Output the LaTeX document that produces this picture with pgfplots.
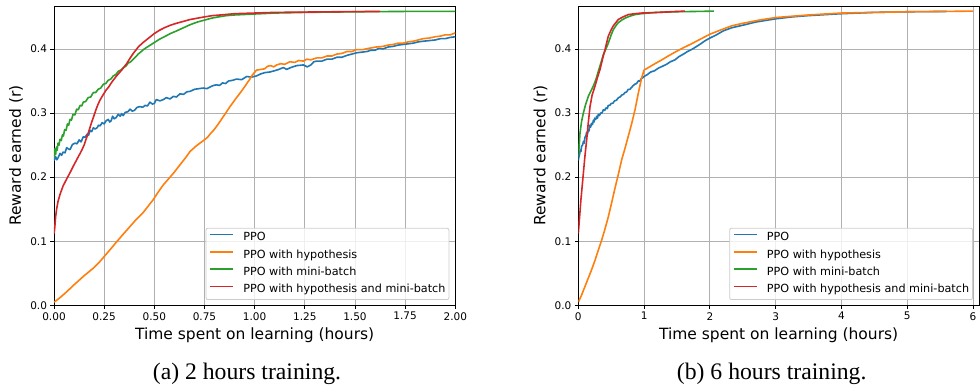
\documentclass[border=0pt]{standalone}
\usepackage{fontspec}
\setmainfont{DejaVu Sans}
\newfontfamily\capfont{Liberation Serif}
\usepackage{pgfplots}
\pgfplotsset{compat=1.18}
\definecolor{tabblue}{HTML}{1F77B4}
\definecolor{taborange}{HTML}{FF7F0E}
\definecolor{tabgreen}{HTML}{2CA02C}
\definecolor{tabred}{HTML}{D62728}
\definecolor{gridgray}{HTML}{B0B0B0}
\definecolor{legedge}{HTML}{CCCCCC}

\pgfplotsset{
  myax/.style={
    scale only axis, height=299.3pt,
    ymin=0, ymax=0.467,
    ytick={0,0.1,0.2,0.3,0.4},
    grid=major, grid style={gridgray, line width=0.8pt},
    axis line style={line width=0.9pt},
    tick align=outside, major tick length=3.5pt,
    tick style={black, line width=0.8pt},
    tick pos=left,
    /pgf/number format/assume math mode=true,
    ticklabel style={font=\fontsize{10.5}{12}\selectfont},
    yticklabel style={/pgf/number format/.cd, fixed, fixed zerofill, precision=1},
    ylabel={Reward earned (r)},
    xlabel={Time spent on learning (hours)},
    label style={font=\fontsize{15.5}{18}\selectfont},
    xlabel style={at={(axis description cs:0.5,-0.1159)}, anchor=base},
    ylabel style={at={(axis description cs:-0.0823,0.5)}, anchor=base, rotate=0},
    no markers,
    every axis plot/.append style={line width=1.6pt, line join=round},
    legend cell align=left,
    legend image code/.code={\draw[#1, line width=1.5pt, line cap=butt] (0pt,3.4pt) -- (23pt,3.4pt);},
    legend style={at={(1,0)}, anchor=south east, xshift=-6pt, yshift=5.3pt,
      draw=legedge, line width=0.8pt, rounded corners=2pt, fill=white, fill opacity=0.8, text opacity=1,
      font=\fontsize{11.2}{13}\selectfont,
      inner xsep=3.5pt, inner ysep=4.5pt, row sep=6.4pt, column sep=9.3pt,
      nodes={inner sep=0pt, text height=8.3pt, text depth=2.5pt}},
    legend entries={PPO, PPO with hypothesis, PPO with mini-batch, PPO with hypothesis and mini-batch},
  }
}

\begin{document}
\begin{tikzpicture}
\useasboundingbox (0,0) rectangle (980pt,385pt);

\begin{axis}[myax, width=401.3pt, at={(54pt,79.7pt)}, anchor=south west,
  xmin=0, xmax=2,
  xtick={0,0.25,0.5,0.75,1,1.25,1.5,1.75,2},
  xticklabel style={/pgf/number format/.cd, fixed, fixed zerofill, precision=2}]
\addplot[tabblue] coordinates {
(0.000,0.226) (0.008,0.232) (0.014,0.227) (0.020,0.230) (0.030,0.237) (0.038,0.234)
(0.045,0.239) (0.055,0.238) (0.063,0.246) (0.072,0.244) (0.080,0.243) (0.092,0.251)
(0.105,0.253) (0.115,0.252) (0.125,0.258) (0.135,0.255) (0.146,0.263) (0.155,0.262)
(0.165,0.267) (0.172,0.265) (0.180,0.273) (0.188,0.271) (0.196,0.277) (0.205,0.275)
(0.215,0.277) (0.222,0.281) (0.230,0.280) (0.240,0.285) (0.250,0.283) (0.260,0.288)
(0.270,0.290) (0.278,0.286) (0.285,0.288) (0.292,0.295) (0.300,0.291) (0.310,0.293)
(0.320,0.298) (0.330,0.295) (0.337,0.299) (0.345,0.296) (0.355,0.301) (0.368,0.302)
(0.379,0.306) (0.390,0.303) (0.400,0.304) (0.415,0.309) (0.429,0.310) (0.442,0.309)
(0.455,0.312) (0.466,0.311) (0.478,0.317) (0.490,0.314) (0.500,0.315) (0.510,0.321)
(0.528,0.319) (0.545,0.321) (0.560,0.324) (0.578,0.322) (0.595,0.326) (0.610,0.325)
(0.628,0.330) (0.645,0.329) (0.662,0.333) (0.680,0.334) (0.700,0.337) (0.722,0.338)
(0.744,0.339) (0.762,0.338) (0.780,0.341) (0.795,0.343) (0.810,0.344) (0.825,0.343)
(0.840,0.347) (0.855,0.346) (0.870,0.350) (0.890,0.351) (0.910,0.353) (0.935,0.352)
(0.960,0.357) (0.985,0.356) (1.010,0.358) (1.030,0.361) (1.050,0.363) (1.075,0.364)
(1.100,0.366) (1.120,0.368) (1.143,0.371) (1.160,0.368) (1.180,0.371) (1.210,0.374)
(1.243,0.375) (1.262,0.372) (1.280,0.375) (1.295,0.380) (1.310,0.381) (1.335,0.381)
(1.360,0.384) (1.385,0.384) (1.410,0.387) (1.435,0.387) (1.460,0.390) (1.485,0.392)
(1.508,0.394) (1.535,0.395) (1.560,0.396) (1.580,0.398) (1.600,0.398) (1.620,0.401)
(1.640,0.400) (1.665,0.403) (1.690,0.404) (1.715,0.406) (1.740,0.407) (1.765,0.408)
(1.790,0.409) (1.815,0.411) (1.840,0.412) (1.870,0.413) (1.900,0.414) (1.925,0.416)
(1.950,0.416) (1.975,0.418) (2.000,0.419)
};
\addplot[taborange] coordinates {
(0.000,0.005) (0.010,0.007) (0.030,0.012) (0.063,0.021) (0.100,0.032) (0.146,0.045)
(0.196,0.058) (0.225,0.067) (0.250,0.076) (0.280,0.087) (0.312,0.099) (0.345,0.111)
(0.379,0.123) (0.410,0.134) (0.445,0.145) (0.470,0.155) (0.495,0.165) (0.520,0.177)
(0.545,0.188) (0.570,0.197) (0.595,0.206) (0.620,0.216) (0.640,0.224) (0.660,0.232)
(0.678,0.240) (0.710,0.249) (0.749,0.258) (0.765,0.262) (0.780,0.268) (0.795,0.273)
(0.810,0.279) (0.830,0.288) (0.845,0.295) (0.860,0.302) (0.877,0.310) (0.905,0.322)
(0.927,0.331) (0.950,0.341) (0.974,0.352) (0.990,0.360) (1.010,0.367) (1.030,0.368)
(1.050,0.369) (1.065,0.373) (1.080,0.374) (1.095,0.372) (1.110,0.375) (1.130,0.377)
(1.150,0.376) (1.175,0.380) (1.200,0.379) (1.220,0.382) (1.243,0.381) (1.260,0.384)
(1.280,0.383) (1.310,0.386) (1.335,0.386) (1.360,0.389) (1.385,0.389) (1.410,0.392)
(1.435,0.393) (1.460,0.396) (1.485,0.396) (1.508,0.399) (1.540,0.399) (1.570,0.401)
(1.605,0.403) (1.640,0.404) (1.665,0.406) (1.690,0.407) (1.715,0.409) (1.740,0.409)
(1.765,0.411) (1.790,0.412) (1.815,0.414) (1.840,0.416) (1.870,0.417) (1.900,0.419)
(1.925,0.420) (1.950,0.422) (1.975,0.422) (2.000,0.425)
};
\addplot[tabgreen] coordinates {
(0.000,0.230) (0.004,0.244) (0.008,0.235) (0.012,0.247) (0.016,0.242) (0.020,0.253)
(0.025,0.250) (0.030,0.259) (0.036,0.257) (0.042,0.266) (0.047,0.264) (0.053,0.274)
(0.060,0.273) (0.067,0.283) (0.073,0.281) (0.080,0.290) (0.087,0.289) (0.095,0.298)
(0.104,0.297) (0.113,0.306) (0.121,0.305) (0.130,0.312) (0.138,0.311) (0.146,0.317)
(0.158,0.318) (0.170,0.324) (0.183,0.325) (0.196,0.332) (0.208,0.332) (0.220,0.337)
(0.233,0.339) (0.246,0.345) (0.258,0.346) (0.270,0.351) (0.283,0.353) (0.296,0.358)
(0.308,0.360) (0.320,0.365) (0.333,0.367) (0.346,0.371) (0.358,0.373) (0.370,0.378)
(0.383,0.380) (0.395,0.384) (0.408,0.388) (0.420,0.392) (0.435,0.396) (0.450,0.400)
(0.475,0.405) (0.500,0.410) (0.525,0.415) (0.550,0.419) (0.580,0.424) (0.610,0.428)
(0.645,0.433) (0.680,0.438) (0.715,0.442) (0.750,0.445) (0.785,0.448) (0.820,0.450)
(0.860,0.452) (0.900,0.453) (1.000,0.4545) (1.100,0.456) (1.250,0.457) (1.500,0.458)
(1.750,0.4585) (2.000,0.4585)
};
\addplot[tabred] coordinates {
(0.000,0.112) (0.003,0.118) (0.008,0.138) (0.013,0.150) (0.020,0.162) (0.030,0.173)
(0.045,0.186) (0.063,0.197) (0.080,0.207) (0.096,0.217) (0.113,0.227) (0.130,0.237)
(0.140,0.243) (0.150,0.250) (0.163,0.262) (0.172,0.270) (0.180,0.278) (0.188,0.286)
(0.196,0.293) (0.210,0.306) (0.220,0.314) (0.229,0.320) (0.240,0.326) (0.250,0.331)
(0.260,0.336) (0.271,0.340) (0.290,0.349) (0.312,0.358) (0.326,0.363) (0.340,0.368)
(0.362,0.377) (0.378,0.385) (0.395,0.393) (0.420,0.403) (0.440,0.409) (0.460,0.414)
(0.480,0.419) (0.500,0.424) (0.525,0.429) (0.550,0.433) (0.580,0.437) (0.610,0.440)
(0.645,0.443) (0.680,0.446) (0.715,0.448) (0.750,0.450) (0.790,0.452) (0.830,0.453)
(0.900,0.455) (1.000,0.456) (1.100,0.457) (1.250,0.4575) (1.400,0.458) (1.625,0.4585)
};
\end{axis}

\begin{axis}[myax, width=400.7pt, at={(578.3pt,79.7pt)}, anchor=south west,
  xmin=0, xmax=6.09,
  xtick={0,1,2,3,4,5,6}]
\addplot[tabblue] coordinates {
(0.000,0.226) (0.010,0.232) (0.020,0.236) (0.030,0.242) (0.040,0.240) (0.050,0.248)
(0.065,0.250) (0.080,0.256) (0.090,0.253) (0.100,0.262) (0.115,0.264) (0.127,0.270)
(0.140,0.267) (0.150,0.274) (0.163,0.272) (0.175,0.281) (0.188,0.278) (0.200,0.284)
(0.215,0.282) (0.230,0.289) (0.240,0.286) (0.250,0.292) (0.265,0.290) (0.280,0.295)
(0.292,0.292) (0.304,0.298) (0.320,0.296) (0.340,0.300) (0.360,0.300) (0.380,0.305)
(0.400,0.304) (0.420,0.308) (0.440,0.307) (0.456,0.312) (0.480,0.312) (0.500,0.315)
(0.525,0.315) (0.550,0.319) (0.580,0.320) (0.610,0.324) (0.635,0.325) (0.660,0.328)
(0.685,0.329) (0.710,0.332) (0.735,0.333) (0.760,0.337) (0.785,0.337) (0.810,0.340)
(0.835,0.343) (0.860,0.345) (0.885,0.346) (0.912,0.350) (0.935,0.350) (0.960,0.354)
(0.980,0.355) (1.000,0.357) (1.050,0.360) (1.100,0.364) (1.160,0.366) (1.216,0.370)
(1.280,0.373) (1.340,0.376) (1.400,0.380) (1.470,0.383) (1.530,0.388) (1.600,0.392)
(1.660,0.396) (1.720,0.399) (1.800,0.404) (1.860,0.408) (1.930,0.413) (2.000,0.417)
(2.100,0.422) (2.200,0.428) (2.330,0.433) (2.500,0.437) (2.700,0.442) (3.000,0.447)
(3.250,0.450) (3.500,0.452) (4.000,0.455) (4.500,0.457) (5.000,0.458) (5.600,0.4585)
};
\addplot[taborange] coordinates {
(0.000,0.005) (0.010,0.007) (0.050,0.016) (0.100,0.029) (0.150,0.042) (0.200,0.055)
(0.250,0.069) (0.304,0.086) (0.350,0.100) (0.400,0.117) (0.456,0.138) (0.500,0.157)
(0.558,0.183) (0.610,0.205) (0.659,0.227) (0.710,0.245) (0.760,0.264) (0.810,0.283)
(0.862,0.305) (0.910,0.330) (0.963,0.355) (1.000,0.367) (1.050,0.370) (1.115,0.374)
(1.200,0.379) (1.270,0.383) (1.350,0.388) (1.470,0.395) (1.600,0.402) (1.720,0.408)
(1.850,0.415) (2.000,0.423) (2.150,0.429) (2.330,0.436) (2.500,0.440) (2.750,0.445)
(3.000,0.449) (3.500,0.453) (4.000,0.456) (4.500,0.457) (5.000,0.458) (5.500,0.4585)
(6.000,0.459)
};
\addplot[tabgreen] coordinates {
(0.000,0.232) (0.010,0.244) (0.026,0.269) (0.050,0.287) (0.077,0.300) (0.110,0.313)
(0.152,0.326) (0.190,0.334) (0.228,0.342) (0.270,0.353) (0.304,0.365) (0.340,0.377)
(0.380,0.391) (0.420,0.400) (0.456,0.409) (0.500,0.422) (0.532,0.430) (0.570,0.436)
(0.608,0.441) (0.660,0.445) (0.710,0.448) (0.780,0.451) (0.862,0.4536) (0.960,0.455)
(1.065,0.456) (1.200,0.457) (1.470,0.458) (1.800,0.4585) (2.060,0.459)
};
\addplot[tabred] coordinates {
(0.000,0.112) (0.010,0.125) (0.040,0.165) (0.077,0.206) (0.100,0.232) (0.127,0.258)
(0.150,0.283) (0.178,0.310) (0.210,0.328) (0.254,0.342) (0.290,0.355) (0.330,0.368)
(0.370,0.385) (0.406,0.399) (0.456,0.420) (0.500,0.430) (0.532,0.436) (0.570,0.441)
(0.608,0.446) (0.680,0.450) (0.760,0.4536) (0.860,0.455) (0.963,0.456) (1.216,0.457)
(1.400,0.458) (1.620,0.459)
};
\end{axis}

\node[font=\capfont\fontsize{23.7}{26}\selectfont, anchor=base] at (247pt,5pt) {(a) 2 hours training.};
\node[font=\capfont\fontsize{23.7}{26}\selectfont, anchor=base] at (771.7pt,5pt) {(b) 6 hours training.};
\end{tikzpicture}
\end{document}
